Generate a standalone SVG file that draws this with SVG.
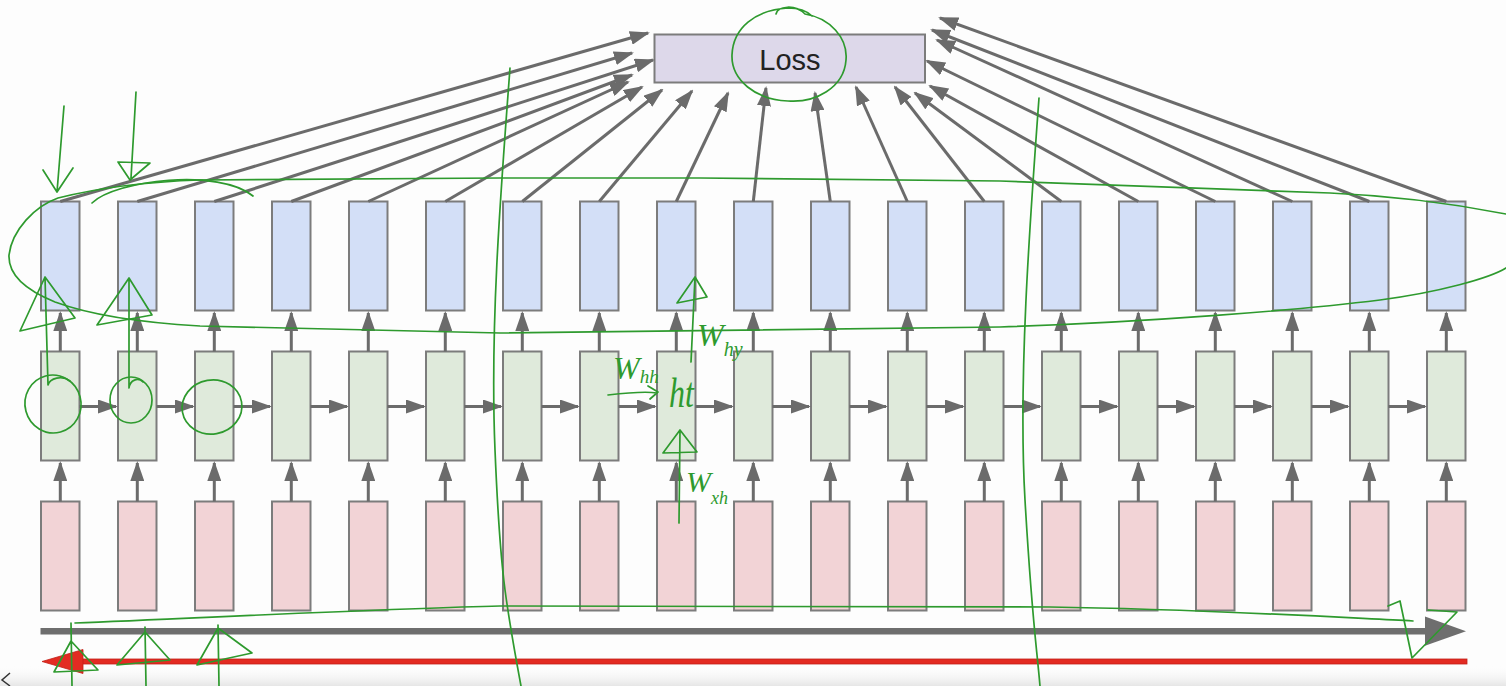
<svg xmlns="http://www.w3.org/2000/svg" width="1506" height="686" viewBox="0 0 1506 686">
<style>
.by{fill:#d3dff7;stroke:#7c7c7c;stroke-width:2}
.bh{fill:#dfeadb;stroke:#7c7c7c;stroke-width:2}
.bx{fill:#f2d3d6;stroke:#7c7c7c;stroke-width:2}
.c{stroke:#6b6b6b;stroke-width:3;fill:none;marker-end:url(#ah)}
.g{stroke:#2e9a2e;stroke-width:1.7;fill:none;stroke-linecap:round;stroke-linejoin:round}
.hw{font-family:"Liberation Serif","DejaVu Serif",serif;font-style:italic;fill:#2e9a2e}
</style>
<defs>
<marker id="ah" markerUnits="userSpaceOnUse" markerWidth="20" markerHeight="14" refX="18" refY="7" orient="auto">
<path d="M0,0 L20,7 L0,14 Z" fill="#6b6b6b"/>
</marker>
<linearGradient id="bg" x1="0" y1="0" x2="0" y2="1">
<stop offset="0" stop-color="#ffffff" stop-opacity="0"/>
<stop offset="1" stop-color="#e6e6e6"/>
</linearGradient>
</defs>
<rect x="0" y="0" width="1506" height="686" fill="#fdfdfd"/>
<rect x="0" y="664" width="1506" height="22" fill="url(#bg)"/>

<g id="loss">
<rect x="654.5" y="34.5" width="270.5" height="48" fill="#ddd8ea" stroke="#7c7c7c" stroke-width="2"/>
<text x="790" y="70" font-family="Liberation Sans, Arial, sans-serif" font-size="29" fill="#222" text-anchor="middle">Loss</text>
</g>

<g id="outputs">
<rect id="y0" class="by" x="41" y="201.5" width="38.5" height="109"/>
<rect id="y1" class="by" x="118" y="201.5" width="38.5" height="109"/>
<rect id="y2" class="by" x="195" y="201.5" width="38.5" height="109"/>
<rect id="y3" class="by" x="272" y="201.5" width="38.5" height="109"/>
<rect id="y4" class="by" x="349" y="201.5" width="38.5" height="109"/>
<rect id="y5" class="by" x="426" y="201.5" width="38.5" height="109"/>
<rect id="y6" class="by" x="503" y="201.5" width="38.5" height="109"/>
<rect id="y7" class="by" x="580" y="201.5" width="38.5" height="109"/>
<rect id="y8" class="by" x="657" y="201.5" width="38.5" height="109"/>
<rect id="y9" class="by" x="734" y="201.5" width="38.5" height="109"/>
<rect id="y10" class="by" x="811" y="201.5" width="38.5" height="109"/>
<rect id="y11" class="by" x="888" y="201.5" width="38.5" height="109"/>
<rect id="y12" class="by" x="965" y="201.5" width="38.5" height="109"/>
<rect id="y13" class="by" x="1042" y="201.5" width="38.5" height="109"/>
<rect id="y14" class="by" x="1119" y="201.5" width="38.5" height="109"/>
<rect id="y15" class="by" x="1196" y="201.5" width="38.5" height="109"/>
<rect id="y16" class="by" x="1273" y="201.5" width="38.5" height="109"/>
<rect id="y17" class="by" x="1350" y="201.5" width="38.5" height="109"/>
<rect id="y18" class="by" x="1427" y="201.5" width="38.5" height="109"/>
</g>

<g id="hidden">
<rect id="h0" class="bh" x="41" y="351.5" width="38.5" height="109"/>
<rect id="h1" class="bh" x="118" y="351.5" width="38.5" height="109"/>
<rect id="h2" class="bh" x="195" y="351.5" width="38.5" height="109"/>
<rect id="h3" class="bh" x="272" y="351.5" width="38.5" height="109"/>
<rect id="h4" class="bh" x="349" y="351.5" width="38.5" height="109"/>
<rect id="h5" class="bh" x="426" y="351.5" width="38.5" height="109"/>
<rect id="h6" class="bh" x="503" y="351.5" width="38.5" height="109"/>
<rect id="h7" class="bh" x="580" y="351.5" width="38.5" height="109"/>
<rect id="h8" class="bh" x="657" y="351.5" width="38.5" height="109"/>
<rect id="h9" class="bh" x="734" y="351.5" width="38.5" height="109"/>
<rect id="h10" class="bh" x="811" y="351.5" width="38.5" height="109"/>
<rect id="h11" class="bh" x="888" y="351.5" width="38.5" height="109"/>
<rect id="h12" class="bh" x="965" y="351.5" width="38.5" height="109"/>
<rect id="h13" class="bh" x="1042" y="351.5" width="38.5" height="109"/>
<rect id="h14" class="bh" x="1119" y="351.5" width="38.5" height="109"/>
<rect id="h15" class="bh" x="1196" y="351.5" width="38.5" height="109"/>
<rect id="h16" class="bh" x="1273" y="351.5" width="38.5" height="109"/>
<rect id="h17" class="bh" x="1350" y="351.5" width="38.5" height="109"/>
<rect id="h18" class="bh" x="1427" y="351.5" width="38.5" height="109"/>
</g>

<g id="inputs">
<rect id="x0" class="bx" x="41" y="501.5" width="38.5" height="109"/>
<rect id="x1" class="bx" x="118" y="501.5" width="38.5" height="109"/>
<rect id="x2" class="bx" x="195" y="501.5" width="38.5" height="109"/>
<rect id="x3" class="bx" x="272" y="501.5" width="38.5" height="109"/>
<rect id="x4" class="bx" x="349" y="501.5" width="38.5" height="109"/>
<rect id="x5" class="bx" x="426" y="501.5" width="38.5" height="109"/>
<rect id="x6" class="bx" x="503" y="501.5" width="38.5" height="109"/>
<rect id="x7" class="bx" x="580" y="501.5" width="38.5" height="109"/>
<rect id="x8" class="bx" x="657" y="501.5" width="38.5" height="109"/>
<rect id="x9" class="bx" x="734" y="501.5" width="38.5" height="109"/>
<rect id="x10" class="bx" x="811" y="501.5" width="38.5" height="109"/>
<rect id="x11" class="bx" x="888" y="501.5" width="38.5" height="109"/>
<rect id="x12" class="bx" x="965" y="501.5" width="38.5" height="109"/>
<rect id="x13" class="bx" x="1042" y="501.5" width="38.5" height="109"/>
<rect id="x14" class="bx" x="1119" y="501.5" width="38.5" height="109"/>
<rect id="x15" class="bx" x="1196" y="501.5" width="38.5" height="109"/>
<rect id="x16" class="bx" x="1273" y="501.5" width="38.5" height="109"/>
<rect id="x17" class="bx" x="1350" y="501.5" width="38.5" height="109"/>
<rect id="x18" class="bx" x="1427" y="501.5" width="38.5" height="109"/>
</g>

<g id="connectors">
<path class="c" d="M60.3,201.5 L648,33"/>
<path class="c" d="M137.3,201.5 L632,53"/>
<path class="c" d="M214.3,201.5 L653,60"/>
<path class="c" d="M291.3,201.5 L632,75"/>
<path class="c" d="M368.3,201.5 L628,82"/>
<path class="c" d="M445.3,201.5 L642,87"/>
<path class="c" d="M522.3,201.5 L662,90"/>
<path class="c" d="M599.3,201.5 L692,91"/>
<path class="c" d="M676.3,201.5 L728,93"/>
<path class="c" d="M753.3,201.5 L766,88"/>
<path class="c" d="M830.3,201.5 L815,93"/>
<path class="c" d="M907.3,201.5 L856,87"/>
<path class="c" d="M984.3,201.5 L895,87"/>
<path class="c" d="M1061.3,201.5 L915,93"/>
<path class="c" d="M1138.3,201.5 L930,86"/>
<path class="c" d="M1215.3,201.5 L927,61"/>
<path class="c" d="M1292.3,201.5 L937,40"/>
<path class="c" d="M1369.3,201.5 L932,30"/>
<path class="c" d="M1446.3,201.5 L940,18"/>

<path class="c" d="M60.3,351.5 V313"/>
<path class="c" d="M137.3,351.5 V313"/>
<path class="c" d="M214.3,351.5 V313"/>
<path class="c" d="M291.3,351.5 V313"/>
<path class="c" d="M368.3,351.5 V313"/>
<path class="c" d="M445.3,351.5 V313"/>
<path class="c" d="M522.3,351.5 V313"/>
<path class="c" d="M599.3,351.5 V313"/>
<path class="c" d="M676.3,351.5 V313"/>
<path class="c" d="M753.3,351.5 V313"/>
<path class="c" d="M830.3,351.5 V313"/>
<path class="c" d="M907.3,351.5 V313"/>
<path class="c" d="M984.3,351.5 V313"/>
<path class="c" d="M1061.3,351.5 V313"/>
<path class="c" d="M1138.3,351.5 V313"/>
<path class="c" d="M1215.3,351.5 V313"/>
<path class="c" d="M1292.3,351.5 V313"/>
<path class="c" d="M1369.3,351.5 V313"/>
<path class="c" d="M1446.3,351.5 V313"/>

<path class="c" d="M60.3,501.5 V463"/>
<path class="c" d="M137.3,501.5 V463"/>
<path class="c" d="M214.3,501.5 V463"/>
<path class="c" d="M291.3,501.5 V463"/>
<path class="c" d="M368.3,501.5 V463"/>
<path class="c" d="M445.3,501.5 V463"/>
<path class="c" d="M522.3,501.5 V463"/>
<path class="c" d="M599.3,501.5 V463"/>
<path class="c" d="M676.3,501.5 V463"/>
<path class="c" d="M753.3,501.5 V463"/>
<path class="c" d="M830.3,501.5 V463"/>
<path class="c" d="M907.3,501.5 V463"/>
<path class="c" d="M984.3,501.5 V463"/>
<path class="c" d="M1061.3,501.5 V463"/>
<path class="c" d="M1138.3,501.5 V463"/>
<path class="c" d="M1215.3,501.5 V463"/>
<path class="c" d="M1292.3,501.5 V463"/>
<path class="c" d="M1369.3,501.5 V463"/>
<path class="c" d="M1446.3,501.5 V463"/>

<path class="c" d="M79.5,406.5 H116"/>
<path class="c" d="M156.5,406.5 H193"/>
<path class="c" d="M233.5,406.5 H270"/>
<path class="c" d="M310.5,406.5 H347"/>
<path class="c" d="M387.5,406.5 H424"/>
<path class="c" d="M464.5,406.5 H501"/>
<path class="c" d="M541.5,406.5 H578"/>
<path class="c" d="M618.5,406.5 H655"/>
<path class="c" d="M695.5,406.5 H732"/>
<path class="c" d="M772.5,406.5 H809"/>
<path class="c" d="M849.5,406.5 H886"/>
<path class="c" d="M926.5,406.5 H963"/>
<path class="c" d="M1003.5,406.5 H1040"/>
<path class="c" d="M1080.5,406.5 H1117"/>
<path class="c" d="M1157.5,406.5 H1194"/>
<path class="c" d="M1234.5,406.5 H1271"/>
<path class="c" d="M1311.5,406.5 H1348"/>
<path class="c" d="M1388.5,406.5 H1425"/>

<g id="forward-arrow">
<rect x="40.5" y="628" width="1388" height="6.5" fill="#6e6e6e"/>
<path d="M1425,616.5 L1466,631.2 L1425,645.8 Z" fill="#6e6e6e"/>
</g>
<g id="backward-arrow">
<rect x="80" y="659" width="1387" height="5" fill="#e32b22" stroke="#c22018" stroke-width="0.8"/>
<path d="M42,661.5 L83,649.5 L83,673.5 Z" fill="#e32b22" stroke="#c22018" stroke-width="0.8"/>
</g>
</g>

<path d="M10,673 L2,680 L10,686" fill="none" stroke="#333" stroke-width="1.5"/>

<g id="annotations">
<path class="g" d="M1506,214 C1460,205 1400,196 1330,193 L1000,181 L700,178 L500,178 L200,180 C140,182 90,190 58,198 C35,206 12,230 9,255 C8,275 25,290 55,302 C85,313 130,322 200,326 L500,333 L1000,327 C1150,322 1300,310 1380,300 C1440,292 1490,278 1506,268"/>
<path class="g" d="M92,203 C115,180 220,168 253,196"/>
<path class="g" d="M64,106 L57,192 M43,170 L57,192 L73,168"/>
<path class="g" d="M136,92 L131,178 M118,162 L150,163 L130,180 Z"/>
<path class="g" d="M45,277 L20,331 L75,318 Z M45,277 L48,385 C50,378 62,375 70,381"/>
<path class="g" d="M129,278 L97,325 L152,315 Z M129,278 L129,388 C130,380 138,377 143,382"/>
<ellipse class="g" cx="53" cy="404" rx="28" ry="29" transform="rotate(-15 53 404)"/>
<ellipse class="g" cx="131" cy="400" rx="21" ry="23"/>
<ellipse class="g" cx="212" cy="407" rx="30" ry="27" transform="rotate(-10 212 407)"/>
<path class="g" d="M75,623 C200,618 400,608 500,606 L1050,607 C1200,609 1330,617 1413,621"/>
<path class="g" d="M1388,606 L1400,601 L1412,658 L1457,612 L1428,610"/>
<path class="g" d="M71,623 L72,686 M71,641 L54,672 L98,670 Z"/>
<path class="g" d="M145,627 L146,686 M145,632 L117,665 L170,660 Z"/>
<path class="g" d="M218,625 L219,686 M218,628 L197,665 L252,653 Z"/>
<path class="g" d="M510,68 C500,200 490,330 495,450 S505,600 521,686"/>
<path class="g" d="M1039,98 C1030,220 1018,380 1025,500 S1036,640 1040,686"/>
<path class="g" d="M776,14 C778,6 795,4 805,14 C830,18 848,38 846,60 C844,88 815,103 788,101 C756,100 731,80 732,55 C733,28 755,10 788,8 C800,8 808,12 812,16"/>
<path class="g" d="M691,362 L695,277 M695,277 L677,303 L707,297 Z"/>
<path class="g" d="M679,523 L680,430 M680,430 L663,453 L697,452 Z"/>
<path class="g" d="M608,395 C625,393 645,391 657,393 M648,386 L658,392 L650,399"/>
<text class="hw" x="697" y="346" font-size="32">W<tspan font-size="20" dy="10">hy</tspan></text>
<text class="hw" x="613" y="379" font-size="32">W<tspan font-size="19" dy="4">hh</tspan></text>
<text class="hw" transform="translate(669,407) scale(1,1.35)" font-size="32">ht</text>
<text class="hw" x="686" y="492" font-size="30">W<tspan font-size="18" dy="12">xh</tspan></text>
</g>
</svg>
